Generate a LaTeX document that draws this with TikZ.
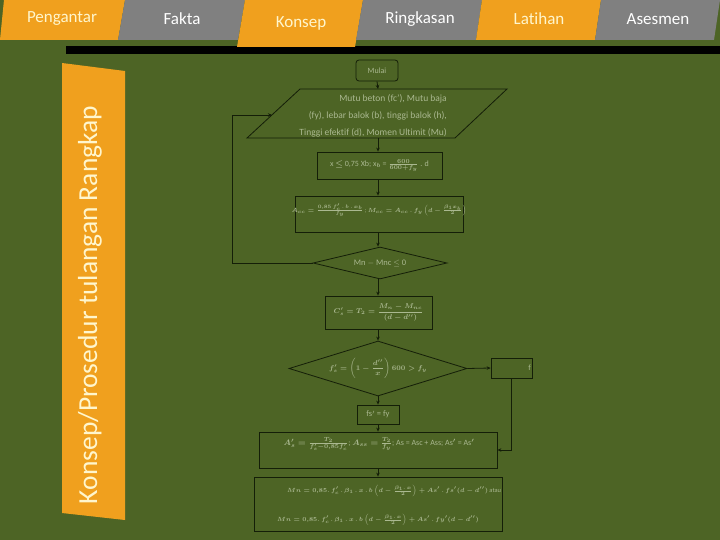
\documentclass[tikz,border=0pt]{standalone}
\usepackage{amsmath}
\usepackage{fontspec}
\setmainfont{Carlito}[Ligatures=NoCommon]
\setsansfont{Carlito}[Ligatures=NoCommon]
\usetikzlibrary{arrows.meta,shapes.geometric}
\definecolor{bg}{RGB}{77,100,37}
\definecolor{tabor}{RGB}{240,160,30}
\definecolor{tabgr}{RGB}{128,128,128}
\definecolor{cream}{RGB}{255,246,205}
\definecolor{fline}{RGB}{20,30,8}
\definecolor{ftext}{RGB}{170,184,144}
\begin{document}
\begin{tikzpicture}[x=1pt,y=-1pt,
  tabtxt/.style={font=\fontsize{17}{19}\selectfont, inner sep=0pt},
  fbox/.style={draw=fline, line width=0.8pt, inner sep=0pt, text=ftext},
  fdiam/.style={draw=fline, line width=0.8pt, diamond, aspect=3, inner sep=0pt, text=ftext},
  ftxt/.style={text=ftext, inner sep=0pt},
  flow/.style={draw=fline, line width=0.8pt, -{Stealth[length=4pt,width=3.5pt]}},
  plain/.style={draw=fline, line width=0.8pt}
]
\useasboundingbox (0,0) rectangle (720,540);
\fill[bg] (0,0) rectangle (720,540);

% black bar
\fill[black] (66,46) rectangle (720,54);

% tabs
\fill[tabor] (4,0) -- (125,0) -- (118,40) -- (0,40) -- cycle;
\fill[tabgr] (125,0) -- (245,0) -- (238,40) -- (118,40) -- cycle;
\fill[tabor] (245,0) -- (363,0) -- (355,47) -- (237,47) -- cycle;
\fill[tabgr] (363,0) -- (482,0) -- (476,40) -- (356,40) -- cycle;
\fill[tabor] (482,0) -- (601,0) -- (595,40) -- (476,40) -- cycle;
\fill[tabgr] (601,0) -- (720,0) -- (714,40) -- (595,40) -- cycle;
\node[tabtxt, text=cream] (t1) at (62,19) {Pengantar};
\node[tabtxt, text=white] (t2) at (182,19) {Fakta};
\node[tabtxt, text=cream] (t3) at (301,23) {Konsep};
\node[tabtxt, text=white] (t4) at (420,19) {Ringkasan};
\node[tabtxt, text=cream] (t5) at (539,19) {Latihan};
\node[tabtxt, text=white] (t6) at (658,19) {Asesmen};

% side banner
\fill[tabor] (62,63) -- (125,71) -- (125,520) -- (62,513) -- cycle;
\node[rotate=90, text=cream, inner sep=0pt, font=\fontsize{27.5}{30}\selectfont] (banner) at (90,305) {Konsep/Prosedur tulangan Rangkap};

% flowchart
\node[fbox, rounded corners=3pt, minimum width=42pt, minimum height=21pt, font=\fontsize{8}{9}\selectfont] (mulai) at (377,70.5) {Mulai};

\draw[plain] (300,89) -- (507,89) -- (455,138) -- (247,138) -- cycle;
\coordinate (inpN) at (378,89);
\coordinate (inpS) at (378,138);
\coordinate (inpW) at (272,115);
\node[ftxt, align=right, anchor=east, font=\fontsize{9.5}{17}\selectfont] (inp) at (447,116) {Mutu beton (fc'), Mutu baja\\(fy), lebar balok (b), tinggi balok (h),\\Tinggi efektif (d), Momen Ultimit (Mu)};

\node[fbox, minimum width=125pt, minimum height=27pt, font=\fontsize{8}{9}\selectfont\boldmath] (b3) at (379.5,165.5) {x $\leq$ 0,75 Xb; x$_b$ = $\frac{600}{600+f_y}$ . d};

\node[fbox, minimum width=168pt, minimum height=36pt] (b4) at (379,214) {};
\node[ftxt, font=\fontsize{6}{7}\selectfont\boldmath] (b4t) at (379,210) {$A_{cc}=\frac{0{,}85\,f'_c\,.\,b\,.\,x_b}{f_y}$ ; $M_{cc}=A_{cc}\,.\,f_y\left(d-\frac{\beta_1 x_b}{2}\right)$};

\node[fdiam, minimum width=134pt, minimum height=32pt, font=\fontsize{8.5}{9}\selectfont] (d5) at (380,263) {Mn $-$ Mnc $\leq$ 0};

\node[fbox, minimum width=107pt, minimum height=33pt, font=\fontsize{7}{8}\selectfont\boldmath] (b6) at (378.5,312.5) {$C_s'=T_2=\dfrac{M_n-M_{nc}}{(d-d'')}$};

\node[fdiam, minimum width=178pt, minimum height=55pt, aspect=3.2, font=\fontsize{6.8}{8}\selectfont\boldmath] (d7) at (378,368.5) {$f_s'=\left(1-\dfrac{d''}{x}\right)600>f_y$};

\node[fbox, minimum width=41pt, minimum height=20pt] (bf) at (511.5,368) {};
\node[ftxt, anchor=east, font=\fontsize{8}{9}\selectfont] (bft) at (531,368) {f};

\node[fbox, minimum width=42pt, minimum height=19pt, font=\fontsize{8.5}{9}\selectfont] (b8) at (378,414.5) {fs$'$ = fy};

\node[fbox, minimum width=238pt, minimum height=36pt] (b9) at (378,450) {};
\node[ftxt, font=\fontsize{8}{9}\selectfont\boldmath] (b9t) at (379,444) {$A_s'=\tfrac{T_2}{f_s'-0{,}85f'_c}$; $A_{ss}=\tfrac{T_2}{f_y}$; As = Asc + Ass; As$'$ = As$'$};

\node[fbox, minimum width=248pt, minimum height=54pt] (b10) at (378,504) {};
\node[ftxt, font=\fontsize{6.4}{8}\selectfont\boldmath] (b10a) at (394,491) {$Mn=0{,}85.\,f'_c\,.\,\beta_1\,.\,x\,.\,b\left(d-\frac{\beta_1 .\, x}{2}\right)+As'\,.\,fs'(d-d'')$ atau};
\node[ftxt, font=\fontsize{6.3}{8}\selectfont\boldmath] (b10b) at (378,520) {$Mn=0{,}85.\,f'_c\,.\,\beta_1\,.\,x\,.\,b\left(d-\frac{\beta_1 .\, x}{2}\right)+As'\,.\,fy'(d-d'')$};

% connectors
\draw[flow] (mulai.south) -- (inpN);
\draw[flow] (inpS) -- (inpS |- b3.north);
\draw[flow] (b3.south -| inpS) -- (inpS |- b4.north);
\draw[flow] (b4.south -| inpS) -- (inpS |- d5.north);
\draw[flow] (d5.south -| inpS) -- (inpS |- b6.north);
\draw[flow] (b6.south -| inpS) -- (d7.north);
\draw[flow] (d7.south) -- (b8.north);
\draw[flow] (b8.south) -- (b9.north -| b8.south);
\draw[flow] (b9.south -| b8.south) -- (b10.north -| b8.south);
\coordinate (loopL) at (232,263);
\draw[flow] (d5.west) -- (loopL) -- (loopL |- inpW) -- (inpW);
\draw[flow] (d7.east) -- (bf.west);
\draw[flow] (bf.south) -- (bf.south |- b9.east) -- (b9.east);
\end{tikzpicture}
\end{document}
